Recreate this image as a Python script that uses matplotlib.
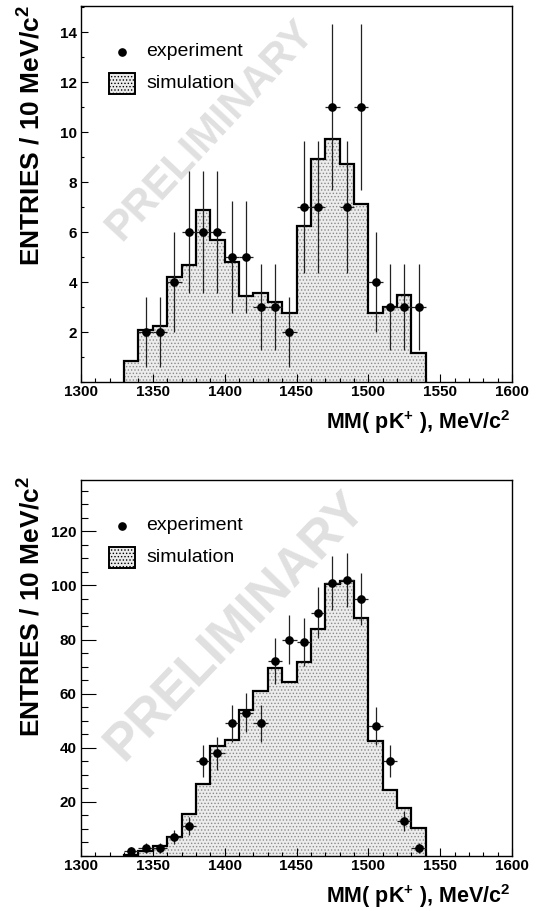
import numpy as np
import matplotlib
matplotlib.use("Agg")
import matplotlib.pyplot as plt
from matplotlib.patches import Rectangle
from matplotlib.ticker import MultipleLocator

plt.rcParams['font.family'] = ['Liberation Sans', 'DejaVu Sans']
plt.rcParams['mathtext.fontset'] = 'custom'
plt.rcParams['mathtext.rm'] = 'Liberation Sans:bold'
plt.rcParams['mathtext.bf'] = 'Liberation Sans:bold'
plt.rcParams['mathtext.default'] = 'bf'
plt.rcParams['hatch.linewidth'] = 0.6
plt.rcParams['hatch.color'] = '#8a8a8a'

# ---------------- data ----------------
bin_edges = [1330, 1340, 1350, 1360, 1370, 1380, 1390, 1400, 1410, 1420, 1430,
             1440, 1450, 1460, 1470, 1480, 1490, 1500, 1510, 1520, 1530, 1540]

# top panel
top_sim = [0.84, 2.08, 2.24, 4.21, 4.67, 6.88, 5.68, 4.79, 3.44, 3.57, 3.19,
           2.75, 6.24, 8.93, 9.72, 8.72, 7.12, 2.77, 3.01, 3.48, 1.15]
top_exp_x = [1345, 1355, 1365, 1375, 1385, 1395, 1405, 1415, 1425, 1435,
             1445, 1455, 1465, 1475, 1485, 1495, 1505, 1515, 1525, 1535]
top_exp_y = [2, 2, 4, 6, 6, 6, 5, 5, 3, 3, 2, 7, 7, 11, 7, 11, 4, 3, 3, 3]
top_exp_err = [1.41, 1.41, 2.0, 2.45, 2.45, 2.45, 2.24, 2.24, 1.73, 1.73,
               1.41, 2.65, 2.65, 3.32, 2.65, 3.32, 2.0, 1.73, 1.73, 1.73]

# bottom panel
bot_sim = [0.5, 2.0, 3.7, 6.9, 15.6, 26.7, 40.5, 42.7, 54.0, 61.1, 69.5,
           64.4, 71.9, 84.0, 100.7, 101.5, 87.9, 42.5, 24.4, 17.9, 10.5]
bot_exp_x = [1335, 1345, 1355, 1365, 1375, 1385, 1395, 1405, 1415, 1425, 1435,
             1445, 1455, 1465, 1475, 1485, 1495, 1505, 1515, 1525, 1535]
bot_exp_y = [2, 3, 3, 7, 11, 35, 38, 49, 53, 49, 72, 80, 79, 90, 101, 102, 95,
             48, 35, 13, 3]
bot_exp_err = [1.41, 1.73, 1.73, 2.65, 3.32, 5.92, 6.16, 7.0, 7.28, 7.0, 8.49,
               8.94, 8.89, 9.49, 10.05, 10.1, 9.75, 6.93, 5.92, 3.61, 1.73]

x_half_width = 5
xlim = (1300, 1600)
top_ylim = (0, 15.05)
bot_ylim = (0, 139)

ylabel = r"ENTRIES / 10 MeV/c$^{2}$"
xlabel = r"MM( pK$^{+}$ ), MeV/c$^{2}$"

W, H = 544, 911
fig = plt.figure(figsize=(W / 100, H / 100), dpi=100)

def px_axes(left, top, right, bottom):
    return fig.add_axes([left / W, 1 - bottom / H, (right - left) / W, (bottom - top) / H])

ax_top = px_axes(81, 6, 512, 382)
ax_bot = px_axes(81, 480, 512, 856)

def draw_panel(ax, sim, ex, ey, eerr, ylim, ymaj, ymin, ytl_major, ytl_minor, wm):
    ax.set_xlim(*xlim)
    ax.set_ylim(*ylim)
    # watermark
    ax.text(wm[0], wm[1], "PRELIMINARY", transform=ax.transAxes, rotation=wm[2],
            fontsize=wm[3], fontweight='bold', color='#e0e0e0', ha='center',
            va='center', rotation_mode='anchor', zorder=0)
    ax.stairs(sim, bin_edges, fill=True, facecolor='#ececec', hatch='.....',
              edgecolor='#8a8a8a', linewidth=0, zorder=1)
    ax.stairs(sim, bin_edges, fill=False, baseline=0, color='black',
              linewidth=1.6, zorder=2)
    ax.errorbar(ex, ey, yerr=eerr, xerr=x_half_width, fmt='o', color='black',
                ecolor='#222222', elinewidth=0.9, markersize=5.2, capsize=0,
                zorder=3)
    ax.xaxis.set_major_locator(MultipleLocator(50))
    ax.xaxis.set_minor_locator(MultipleLocator(10))
    ax.yaxis.set_major_locator(MultipleLocator(ymaj))
    ax.yaxis.set_minor_locator(MultipleLocator(ymin))
    ax.tick_params(axis='both', which='both', direction='in', top=False, right=False)
    ax.tick_params(axis='x', which='major', length=6, width=0.8, pad=2, labelsize=11)
    ax.tick_params(axis='x', which='minor', length=3, width=0.8)
    ax.tick_params(axis='y', which='major', length=ytl_major, width=0.8, pad=3, labelsize=11)
    ax.tick_params(axis='y', which='minor', length=ytl_minor, width=0.8)
    for lab in ax.get_xticklabels() + ax.get_yticklabels():
        lab.set_fontweight('bold')
    # hide zero label
    yt = [t for t in ax.get_yticks() if ylim[0] < t <= ylim[1]]
    ax.set_yticks(yt)
    ax.set_yticklabels([f"{int(t)}" for t in yt], fontweight='bold')
    for s in ax.spines.values():
        s.set_linewidth(1.0)
    # legend (manual)
    ax.plot([0.095], [0.878], 'o', color='black', markersize=5.2,
            transform=ax.transAxes, zorder=4, clip_on=False)
    ax.text(0.151, 0.878, "experiment", transform=ax.transAxes, fontsize=14,
            va='center', ha='left', zorder=4)
    ax.add_patch(Rectangle((0.065, 0.766), 0.060, 0.056, transform=ax.transAxes,
                           facecolor='#ececec', hatch='.....', edgecolor='black',
                           linewidth=1.4, zorder=4))
    ax.text(0.151, 0.794, "simulation", transform=ax.transAxes, fontsize=14,
            va='center', ha='left', zorder=4)

draw_panel(ax_top, top_sim, top_exp_x, top_exp_y, top_exp_err, top_ylim, 2, 1,
           5, 2.5, (0.30, 0.67, 47, 30))
draw_panel(ax_bot, bot_sim, bot_exp_x, bot_exp_y, bot_exp_err, bot_ylim, 20, 5,
           11, 5, (0.36, 0.61, 46, 37))

# axis titles
for top_px, bot_px in [(5, 382), (476, 856)]:
    fig.text(32 / W, 1 - top_px / H, ylabel, rotation=90, ha='center', va='top',
             fontsize=19, fontweight='bold')
    fig.text(510 / W, 1 - (bot_px + 47) / H, xlabel, ha='right', va='baseline',
             fontsize=15.5, fontweight='bold')

fig.savefig("out.png", dpi=100)
